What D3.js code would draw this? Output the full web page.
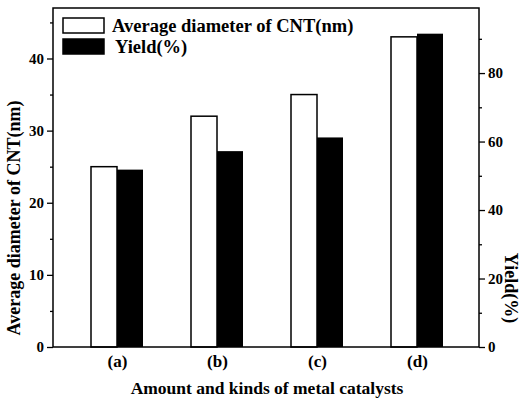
<!DOCTYPE html>
<html>
<head>
<meta charset="utf-8">
<script src="https://cdn.jsdelivr.net/npm/d3@7"></script>
<style>
  body { margin: 0; background: #fff; }
  text { font-family: "Liberation Serif", "DejaVu Serif", serif; }
</style>
</head>
<body>
<div id="chart"></div>
<script>
const categories = ['(a)', '(b)', '(c)', '(d)'];
const diameter = [25, 32, 35, 43];
const yieldPct = [51.8, 57.2, 61.2, 91.5];
const leftTicks = [0, 10, 20, 30, 40];
const rightTicks = [0, 20, 40, 60, 80];

const width = 526;
const height = 401;
const margin = { top: 8, right: 47, bottom: 54, left: 53 };
const x0 = margin.left;
const x1 = width - margin.right;
const y0 = height - margin.bottom;
const y1 = margin.top;

const svg = d3.select('#chart').append('svg')
  .attr('width', width)
  .attr('height', height);

const xScale = d3.scalePoint()
  .domain(categories)
  .range([x0 + 14, x1 - 12])
  .padding(0.5);

const yLeft = d3.scaleLinear().domain([0, 47]).range([y0, y1]);
const yRight = d3.scaleLinear().domain([0, 99]).range([y0, y1]);

const barW = 26;

// Bars
svg.append('g')
  .selectAll('rect')
  .data(categories)
  .enter()
  .append('rect')
  .attr('x', (d) => xScale(d) - barW)
  .attr('y', (d, i) => yLeft(diameter[i]))
  .attr('width', barW)
  .attr('height', (d, i) => y0 - yLeft(diameter[i]))
  .attr('fill', '#fff')
  .attr('stroke', '#000')
  .attr('stroke-width', 1.5);

svg.append('g')
  .selectAll('rect')
  .data(categories)
  .enter()
  .append('rect')
  .attr('x', (d) => xScale(d))
  .attr('y', (d, i) => yRight(yieldPct[i]))
  .attr('width', barW)
  .attr('height', (d, i) => y0 - yRight(yieldPct[i]))
  .attr('fill', '#000');

// Frame
svg.append('rect')
  .attr('x', x0)
  .attr('y', y1)
  .attr('width', x1 - x0)
  .attr('height', y0 - y1)
  .attr('fill', 'none')
  .attr('stroke', '#000')
  .attr('stroke-width', 1.5);

// Left axis
const leftAxis = svg.append('g')
  .attr('transform', `translate(${x0},0)`)
  .call(d3.axisLeft(yLeft).tickValues(leftTicks).tickSize(6).tickPadding(3));
svg.append('g')
  .attr('transform', `translate(${x0},0)`)
  .call(d3.axisLeft(yLeft).tickValues([5, 15, 25, 35, 45]).tickSize(3).tickFormat(''));

// Right axis
const rightAxis = svg.append('g')
  .attr('transform', `translate(${x1},0)`)
  .call(d3.axisRight(yRight).tickValues(rightTicks).tickSize(6).tickPadding(3));
svg.append('g')
  .attr('transform', `translate(${x1},0)`)
  .call(d3.axisRight(yRight).tickValues([10, 30, 50, 70, 90]).tickSize(3).tickFormat(''));

// Bottom axis labels
const bottomAxis = svg.append('g')
  .attr('transform', `translate(0,${y0})`)
  .call(d3.axisBottom(xScale).tickSize(0).tickPadding(8));

svg.selectAll('.domain').remove();
svg.selectAll('.tick line').attr('stroke-width', 1.3);
svg.selectAll('.tick text')
  .style('font-family', '"Liberation Serif", serif')
  .style('font-weight', 'bold')
  .attr('fill', '#000');
leftAxis.selectAll('text').style('font-size', '15px');
rightAxis.selectAll('text').style('font-size', '15px');
bottomAxis.selectAll('text').style('font-size', '17px');

// Axis titles
svg.append('text')
  .attr('transform', `translate(20,${218}) rotate(-90)`)
  .attr('text-anchor', 'middle')
  .style('font-size', '18px')
  .style('font-weight', 'bold')
  .text('Average diameter of CNT(nm)');

svg.append('text')
  .attr('transform', `translate(505,${288}) rotate(90)`)
  .attr('text-anchor', 'middle')
  .style('font-size', '18px')
  .style('font-weight', 'bold')
  .text('Yield(%)');

svg.append('text')
  .attr('x', 267)
  .attr('y', 394)
  .attr('text-anchor', 'middle')
  .style('font-size', '17.5px')
  .style('font-weight', 'bold')
  .text('Amount and kinds of metal catalysts');

// Legend
const legendItems = ['Average diameter of CNT(nm)', 'Yield(%)'];
const legend = svg.selectAll('.legend')
  .data(legendItems)
  .enter()
  .append('g')
  .attr('class', 'legend')
  .attr('transform', (d, i) => `translate(63,${18 + i * 21})`);

legend.append('rect')
  .attr('width', 41)
  .attr('height', 15)
  .attr('fill', (d, i) => (i === 0 ? '#fff' : '#000'))
  .attr('stroke', '#000')
  .attr('stroke-width', 1.5);

legend.append('text')
  .attr('x', (d, i) => (i === 0 ? 49 : 52))
  .attr('y', 14)
  .style('font-size', '18.5px')
  .style('font-weight', 'bold')
  .text((d) => d);
</script>
</body>
</html>
